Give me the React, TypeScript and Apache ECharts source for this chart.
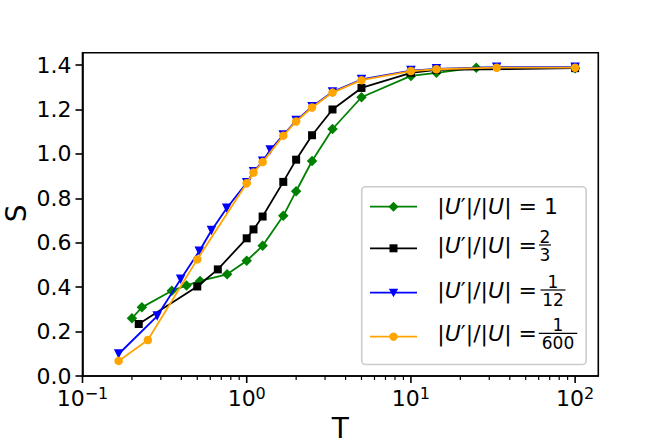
import React, { useEffect, useRef } from 'react';
import * as echarts from 'echarts';

const FONT = 'DejaVu Sans';

// Series data (T, S)
const greenT = [0.2, 0.23, 0.35, 0.43, 0.52, 0.76, 1.0, 1.25, 1.67, 2.0, 2.5, 3.33, 5, 10, 14.3, 25, 100];
const greenS = [0.26, 0.309, 0.384, 0.407, 0.428, 0.458, 0.519, 0.586, 0.721, 0.832, 0.968, 1.112, 1.255, 1.351, 1.365, 1.388, 1.386];

const blackT = [0.22, 0.5, 0.667, 1.0, 1.1, 1.25, 1.67, 2.0, 2.5, 3.33, 5, 10, 14.3, 100];
const blackS = [0.234, 0.403, 0.48, 0.62, 0.66, 0.718, 0.874, 0.974, 1.084, 1.2, 1.297, 1.365, 1.378, 1.386];

const blueT = [0.166, 0.285, 0.396, 0.514, 0.61, 0.755, 1.0, 1.1, 1.25, 1.39, 1.67, 2.0, 2.5, 3.33, 5, 10, 14.3, 33.3, 100];
const blueS = [0.099, 0.27, 0.436, 0.562, 0.655, 0.755, 0.87, 0.92, 0.967, 1.017, 1.085, 1.15, 1.212, 1.279, 1.335, 1.375, 1.383, 1.39, 1.39];

const orangeT = [0.166, 0.25, 0.5, 1.0, 1.1, 1.25, 1.67, 2.0, 2.5, 3.33, 5, 10, 14.3, 33.3, 100];
const orangeS = [0.068, 0.162, 0.525, 0.868, 0.916, 0.963, 1.082, 1.146, 1.209, 1.276, 1.332, 1.373, 1.381, 1.388, 1.388];

// Legend ratios: numerator / denominator ('' denominator = plain number)
const ratioNum = ['1', '2', '1', '1'];
const ratioDen = ['', '3', '12', '600'];
const seriesColors = ['#008000', '#000000', '#0000ff', '#ffa500'];

// Axis ticks
const xMajorTicks = [0.1, 1, 10, 100];
const xMinorTicks = [0.2, 0.3, 0.4, 0.5, 0.6, 0.7, 0.8, 0.9, 2, 3, 4, 5, 6, 7, 8, 9, 20, 30, 40, 50, 60, 70, 80, 90];
const yTicks = [0, 0.2, 0.4, 0.6, 0.8, 1.0, 1.2, 1.4];

const zip = (a: number[], b: number[]) => a.map((v, i) => [v, b[i]]);

const names = ratioNum.map((n, i) => `|U′|/|U| = ${ratioDen[i] ? n + '/' + ratioDen[i] : n}`);

const GRID = { left: 82.5, top: 52.7, width: 515.8, height: 323.3 };
const TICK_FS = 22;

function tickSeries(name: string, values: number[], len: number, width: number) {
  return {
    type: 'custom',
    name,
    silent: true,
    clip: false,
    z: 10,
    data: values.map((v) => [v, 0]),
    renderItem: (_p: any, api: any) => {
      const p = api.coord([api.value(0), 0]);
      return {
        type: 'line',
        shape: { x1: p[0], y1: p[1], x2: p[0], y2: p[1] + len },
        style: { stroke: '#000', lineWidth: width },
      };
    },
  };
}

function legendGraphic() {
  const rowsY = [206.7, 245, 290, 333.3];
  const handleY = [206.7, 248.3, 292.7, 336.7];
  const fracCx = [0, 545, 553, 558];
  const fracW = [0, 12, 25, 38.5];
  const mx = 393.5;
  const children: any[] = [
    {
      type: 'rect',
      shape: { x: 361.7, y: 186.7, width: 224.5, height: 177.8, r: 4 },
      style: { fill: 'rgba(255,255,255,0.8)', stroke: '#cccccc', lineWidth: 1.6 },
    },
  ];
  const rich = {
    n: { fontSize: 22, fontFamily: FONT, fill: '#000' },
    i: { fontSize: 22, fontFamily: FONT, fontStyle: 'italic', fill: '#000' },
  };
  for (let k = 0; k < 4; k++) {
    const c = seriesColors[k];
    const hy = handleY[k];
    children.push({
      type: 'line',
      shape: { x1: 370, y1: hy, x2: 417, y2: hy },
      style: { stroke: c, lineWidth: 1.8 },
    });
    if (k === 0) {
      children.push({ type: 'polygon', shape: { points: [[mx, hy - 5], [mx + 5, hy], [mx, hy + 5], [mx - 5, hy]] }, style: { fill: c } });
    } else if (k === 1) {
      children.push({ type: 'rect', shape: { x: mx - 4, y: hy - 4, width: 8, height: 8 }, style: { fill: c } });
    } else if (k === 2) {
      children.push({ type: 'polygon', shape: { points: [[mx - 4.7, hy - 4], [mx + 4.7, hy - 4], [mx, hy + 4.5]] }, style: { fill: c } });
    } else {
      children.push({ type: 'circle', shape: { cx: mx, cy: hy, r: 4.2 }, style: { fill: c } });
    }
    const y = rowsY[k];
    const tail = ratioDen[k] ? '| =' : '| = ' + ratioNum[k];
    children.push({
      type: 'text',
      x: 437.3,
      y,
      style: {
        text: `{n||}{i|U}{n|′|/|}{i|U}{n|${tail}}`,
        rich,
        align: 'left',
        verticalAlign: 'middle',
        fontSize: 22,
        fontFamily: FONT,
        fill: '#000',
      },
    });
    if (ratioDen[k]) {
      const cx = fracCx[k];
      children.push({
        type: 'text',
        x: cx,
        y: y - 8.5,
        style: { text: ratioNum[k], fontSize: 17, lineHeight: 17, fontFamily: FONT, fill: '#000', align: 'center', verticalAlign: 'middle' },
      });
      children.push({
        type: 'text',
        x: cx,
        y: y + 10,
        style: { text: ratioDen[k], fontSize: 17, lineHeight: 17, fontFamily: FONT, fill: '#000', align: 'center', verticalAlign: 'middle' },
      });
      children.push({
        type: 'line',
        shape: { x1: cx - fracW[k] / 2, y1: y, x2: cx + fracW[k] / 2, y2: y },
        style: { stroke: '#000', lineWidth: 1.2 },
      });
    }
  }
  return { type: 'group', z: 100, children };
}

export default function App() {
  const ref = useRef<HTMLDivElement>(null);
  useEffect(() => {
    if (!ref.current) return;
    const chart = echarts.init(ref.current, null, { renderer: 'svg' });
    const markers = [
      { symbol: 'diamond', size: 10.5, rotate: 0 },
      { symbol: 'rect', size: 8, rotate: 0 },
      { symbol: 'triangle', size: 9.5, rotate: 180 },
      { symbol: 'circle', size: 8.5, rotate: 0 },
    ];
    const dataSets = [zip(greenT, greenS), zip(blackT, blackS), zip(blueT, blueS), zip(orangeT, orangeS)];
    const lineSeries = dataSets.map((d, i) => ({
      type: 'line',
      name: names[i],
      data: d,
      symbol: markers[i].symbol,
      symbolSize: markers[i].size,
      symbolRotate: markers[i].rotate,
      showAllSymbol: true,
      color: seriesColors[i],
      itemStyle: { color: seriesColors[i] },
      lineStyle: { color: seriesColors[i], width: 1.8 },
      z: 2 + i,
      clip: false,
    }));
    chart.setOption({
      animation: false,
      backgroundColor: '#ffffff',
      grid: { ...GRID, show: true, borderColor: '#000', borderWidth: 1.6, backgroundColor: 'transparent' },
      xAxis: {
        type: 'log',
        logBase: 10,
        min: 0.1,
        max: 138.4,
        axisLine: { show: true, onZero: false, lineStyle: { color: '#000', width: 1.6 } },
        axisTick: { show: false },
        splitLine: { show: false },
        axisLabel: {
          interval: 0,
          showMaxLabel: false,
          margin: 9,
          formatter: (v: number) => {
            const l = Math.log10(v);
            const e = Math.round(l);
            if (Math.abs(l - e) > 1e-6) return '';
            return `{b|10}{s|${e < 0 ? '−' + -e : e}}`;
          },
          rich: {
            b: { fontSize: TICK_FS, fontFamily: FONT, color: '#000', lineHeight: 26 },
            s: { fontSize: 16, fontFamily: FONT, color: '#000', lineHeight: 16, verticalAlign: 'top' },
          },
        },
      },
      yAxis: {
        type: 'value',
        min: 0,
        max: 1.4556,
        interval: 0.2,
        axisLine: { show: true, onZero: false, lineStyle: { color: '#000', width: 1.6 } },
        axisTick: { show: true, length: 7, lineStyle: { color: '#000', width: 1.6 }, customValues: yTicks },
        splitLine: { show: false },
        axisLabel: {
          customValues: yTicks,
          formatter: (v: number) => v.toFixed(1),
          fontSize: TICK_FS,
          fontFamily: FONT,
          color: '#000',
          margin: 11,
        },
      },
      series: [
        ...lineSeries,
        tickSeries('xMajorTicks', xMajorTicks, 7, 1.6),
        tickSeries('xMinorTicks', xMinorTicks, 4, 1.2),
      ],
      graphic: [
        legendGraphic(),
        {
          type: 'text',
          x: 16.8,
          y: 213.3,
          rotation: Math.PI / 2,
          style: { text: 'S', fontSize: 28, lineHeight: 24, fontFamily: FONT, fill: '#000', align: 'center', verticalAlign: 'middle' },
        },
        {
          type: 'text',
          x: 340.3,
          y: 428,
          style: { text: 'T', fontSize: 28, lineHeight: 24, fontFamily: FONT, fill: '#000', align: 'center', verticalAlign: 'middle' },
        },
      ],
    });
    return () => chart.dispose();
  }, []);
  return (
    <div
      ref={ref}
      style={{ position: 'fixed', left: 0, top: 0, width: 664, height: 443, background: '#fff' }}
    />
  );
}
